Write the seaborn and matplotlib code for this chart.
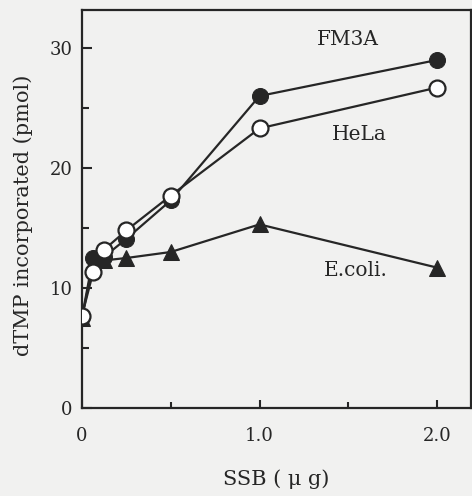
import matplotlib
matplotlib.use("Agg")
import matplotlib.pyplot as plt
import seaborn as sns
import pandas as pd
from matplotlib.ticker import FixedLocator

ssb = [0, 0.0625, 0.125, 0.25, 0.5, 1.0, 2.0]
fm3a = [7.6, 12.5, 12.6, 14.1, 17.3, 26.0, 29.0]
hela = [7.7, 11.3, 13.2, 14.8, 17.7, 23.3, 26.7]
ecoli = [7.5, 12.1, 12.3, 12.5, 13.0, 15.3, 11.7]

series_names = ["FM3A", "HeLa", "E.coli."]
x_ticks = [0, 1.0, 2.0]
x_ticklabels = ["0", "1.0", "2.0"]
y_ticks = [0, 10, 20, 30]

sns.set_theme(style="ticks")
bg = "#f1f1f0"
ink = "#262626"
plt.rcParams["font.family"] = ["DejaVu Serif"]

X0, X1, Y0, Y1 = 82, 470.5, 408, 10
fig = plt.figure(figsize=(4.72, 4.96), dpi=100, facecolor=bg)
ax = fig.add_axes([X0/472, 1-Y0/496, (X1-X0)/472, (Y0-Y1)/496])
ax.set_facecolor(bg)

df_e = pd.DataFrame({"x": ssb, "y": ecoli})
df_h = pd.DataFrame({"x": ssb, "y": hela})
df_f = pd.DataFrame({"x": ssb, "y": fm3a})

sns.lineplot(data=df_e, x="x", y="y", ax=ax, color=ink, lw=1.6, marker="^",
             markersize=11.5, markerfacecolor=ink, markeredgecolor=ink, zorder=3)
sns.lineplot(data=df_f, x="x", y="y", ax=ax, color=ink, lw=1.6, marker="o",
             markersize=11.5, markerfacecolor=ink, markeredgecolor=ink, zorder=4)
sns.lineplot(data=df_h, x="x", y="y", ax=ax, color=ink, lw=1.6, marker="o",
             markersize=11.5, markerfacecolor="white", markeredgecolor=ink,
             markeredgewidth=1.6, zorder=5)

ax.set_xlim(0, (X1-X0)/177.5)
ax.set_ylim(0, (Y0-Y1)/12)

ax.xaxis.set_major_locator(FixedLocator(x_ticks))
ax.set_xticklabels(x_ticklabels)
ax.xaxis.set_minor_locator(FixedLocator([0.5, 1.5]))
ax.yaxis.set_major_locator(FixedLocator(y_ticks))
ax.yaxis.set_minor_locator(FixedLocator([5, 15, 25]))

ax.tick_params(axis="both", which="both", direction="in", color=ink,
               labelcolor=ink, labelsize=13, width=1.5)
ax.tick_params(axis="x", which="major", length=6, pad=14)
ax.tick_params(axis="x", which="minor", length=4)
ax.tick_params(axis="y", which="major", length=7, pad=7)
ax.tick_params(axis="y", which="minor", length=5)

for s in ax.spines.values():
    s.set_color(ink)
    s.set_linewidth(1.6)

ax.set_xlabel("SSB ( μ g)", fontsize=15, color=ink)
ax.set_ylabel("dTMP incorporated (pmol)", fontsize=15, color=ink)
ax.xaxis.label.set_verticalalignment("center")
ax.yaxis.label.set_verticalalignment("center")
ax.xaxis.set_label_coords((276-X0)/(X1-X0), -(479-Y0)/(Y0-Y1))
ax.yaxis.set_label_coords(-(X0-23)/(X1-X0), (Y0-215)/(Y0-Y1))

ax.text(1.50, 30.7, series_names[0], fontsize=14.5, color=ink, ha="center", va="center")
ax.text(1.56, 22.8, series_names[1], fontsize=14.5, color=ink, ha="center", va="center")
ax.text(1.54, 11.5, series_names[2], fontsize=14.5, color=ink, ha="center", va="center")

fig.savefig("out.png", dpi=100, facecolor=bg)
